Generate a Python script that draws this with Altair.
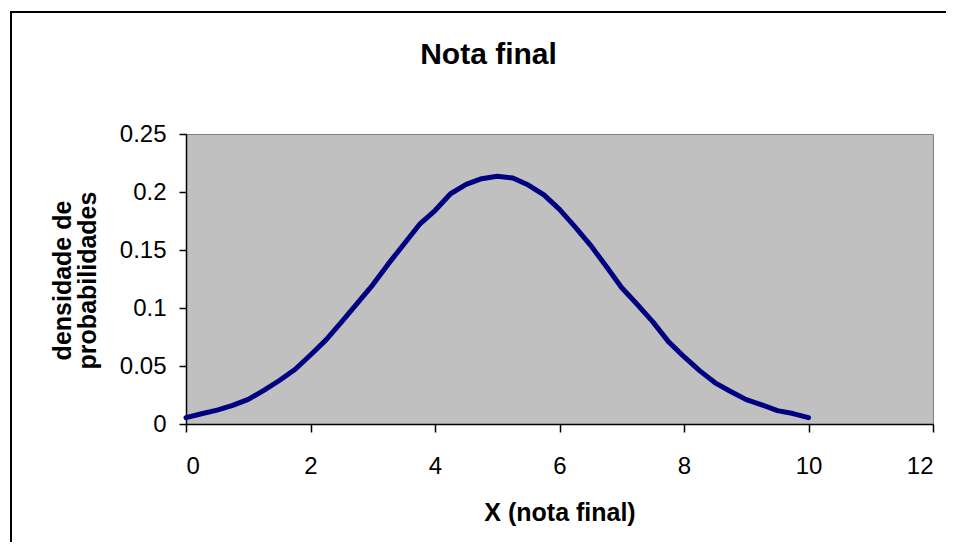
import altair as alt
import pandas as pd

# X (nota final) values
nota = [0.0, 0.25, 0.5, 0.75, 1.0, 1.25, 1.5, 1.75, 2.0, 2.25, 2.5, 2.75, 3.0, 3.25,
        3.5, 3.75, 4.0, 4.25, 4.5, 4.75, 5.0, 5.25, 5.5, 5.75, 6.0, 6.25, 6.5, 6.75,
        7.0, 7.25, 7.5, 7.75, 8.0, 8.25, 8.5, 8.75, 9.0, 9.25, 9.5, 9.75, 10.0]
# densidade de probabilidades
densidade = [0.0055, 0.0088, 0.0120, 0.0160, 0.0212, 0.0290, 0.0375, 0.0470, 0.0595,
             0.0725, 0.0880, 0.1040, 0.1200, 0.1380, 0.1550, 0.1720, 0.1840, 0.1985,
             0.2065, 0.2115, 0.2135, 0.2120, 0.2060, 0.1975, 0.1850, 0.1700, 0.1540,
             0.1360, 0.1175, 0.1030, 0.0880, 0.0710, 0.0580, 0.0460, 0.0355, 0.0280,
             0.0210, 0.0165, 0.0115, 0.0090, 0.0055]

x_ticks = [0, 2, 4, 6, 8, 10, 12]
y_ticks = [0, 0.05, 0.1, 0.15, 0.2, 0.25]

FONT = "Liberation Sans"

df = pd.DataFrame({"x": nota, "y": densidade})

line = alt.Chart(df).mark_line(color="#000080", strokeWidth=5, strokeCap="round",
                               strokeJoin="round").encode(
    x=alt.X("x:Q", scale=alt.Scale(domain=[0, 12], nice=False),
            axis=alt.Axis(values=x_ticks, title="X (nota final)", tickSize=8,
                          labelPadding=22, titleX=373.5, titleY=96,
                          titleBaseline="alphabetic", titleAlign="center")),
    y=alt.Y("y:Q", scale=alt.Scale(domain=[0, 0.25], nice=False),
            axis=alt.Axis(values=y_ticks, format="~g",
                          title=["densidade de", "probabilidades"], tickSize=7,
                          labelPadding=13, titleAngle=270, titleX=-116, titleY=146,
                          titleBaseline="alphabetic", titleAlign="center",
                          titleLineHeight=25)),
    order="x:Q",
)

border = alt.Chart(pd.DataFrame({"b": [0]})).mark_rect(
    filled=False, stroke="black", strokeWidth=2
).encode(
    x=alt.value(-175), x2=alt.value(800), y=alt.value(-122), y2=alt.value(440)
)

chart = alt.layer(border, line).properties(
    width=747,
    height=290,
    autosize="none",
    background="white",
    padding={"left": 178, "top": 126, "right": 13, "bottom": 118},
    title=alt.TitleParams("Nota final", font=FONT, fontSize=30, fontWeight="bold",
                          color="black", anchor="middle", frame="group", dx=-71,
                          baseline="alphabetic", offset=0, dy=83),
).configure_view(
    fill="#C0C0C0", stroke="#808080", strokeWidth=1
).configure_axis(
    grid=False, domainColor="black", domainWidth=1.5, tickColor="black",
    tickWidth=1.5, labelFont=FONT, labelFontSize=24, labelColor="black",
    titleFont=FONT, titleFontSize=25, titleFontWeight="bold", titleColor="black"
)

chart.save("out.html", embed_options={"renderer": "svg", "actions": False})
